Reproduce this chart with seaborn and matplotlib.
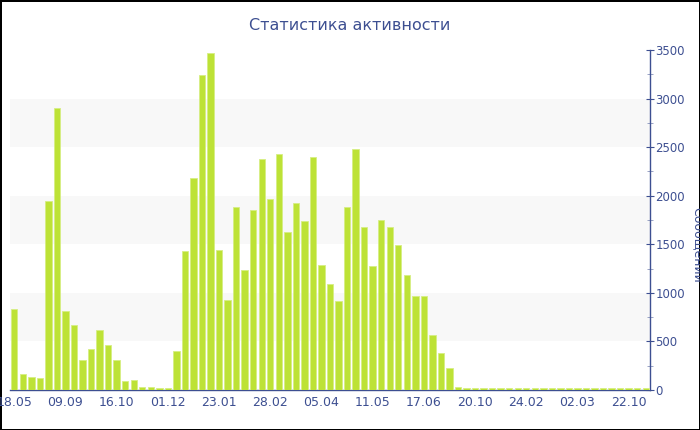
import pandas as pd
import seaborn as sns
import matplotlib.pyplot as plt
from matplotlib.ticker import MultipleLocator

# Messages per period
messages = [830, 165, 134, 122, 1950, 2900, 810, 669, 305, 420,
            618, 465, 310, 90, 103, 28, 28, 18, 16, 398,
            1431, 2180, 3240, 3468, 1440, 926, 1880, 1235, 1850, 2376,
            1966, 2425, 1625, 1923, 1738, 2395, 1285, 1088, 920, 1885,
            2478, 1678, 1278, 1746, 1678, 1490, 1180, 965, 965, 566,
            379, 226, 32, 16, 16, 18, 18, 20, 18, 22,
            18, 18, 20, 16, 16, 22, 18, 16, 16, 18,
            16, 16, 16, 18, 16]
tick_labels = ["18.05", "09.09", "16.10", "01.12", "23.01", "28.02", "05.04",
               "11.05", "17.06", "20.10", "24.02", "02.03", "22.10"]
tick_step = 6

df = pd.DataFrame({"idx": range(len(messages)), "count": messages})

text_color = "#3d4f91"
sns.set_style("white")
plt.rcParams['font.family'] = ['DejaVu Sans']

fig = plt.figure(figsize=(7, 4.3), dpi=100)
fig.patch.set_edgecolor("black")
fig.patch.set_linewidth(2)
ax = fig.add_axes([10 / 700, 40 / 430, 640 / 700, 340 / 430])

# alternating background bands
for lo in (500, 1500, 2500):
    ax.axhspan(lo, lo + 500, color="#f8f8f8", zorder=0, lw=0)

sns.barplot(data=df, x="idx", y="count", color="#bde236", saturation=1,
            width=0.75, edgecolor="#d6ee84", linewidth=0.6, ax=ax, zorder=3)

ax.set_xlim(-0.5, len(messages) - 0.5)
ax.set_ylim(0, 3500)
ax.set_xticks(range(0, len(tick_labels) * tick_step, tick_step))
ax.set_xticklabels(tick_labels)
ax.set_xlabel("")
ax.set_ylabel("")

ax.yaxis.tick_right()
ax.yaxis.set_major_locator(MultipleLocator(500))
ax.yaxis.set_minor_locator(MultipleLocator(250))
ax.tick_params(axis="y", which="major", direction="inout", length=6, width=0.8,
               color=text_color, labelcolor=text_color, labelsize=8.5, pad=1)
ax.tick_params(axis="y", which="minor", direction="inout", length=4, width=0.6,
               color="#8a94bb")
ax.tick_params(axis="x", direction="inout", length=5, width=0.8,
               color="#8a94bb", labelcolor=text_color, labelsize=9, pad=2)

for side in ("left", "top"):
    ax.spines[side].set_visible(False)
for side in ("right", "bottom"):
    ax.spines[side].set_color(text_color)
    ax.spines[side].set_linewidth(1)
    ax.spines[side].set_zorder(2)

fig.text(0.5, 1 - 25 / 430, "Статистика активности", ha="center", va="center",
         fontsize=11.5, color=text_color)
fig.text(697 / 700, 1 - 245 / 430, "Сообщений", ha="center", va="center",
         rotation=270, fontsize=9, color=text_color)

fig.savefig("out.png", dpi=100, edgecolor=fig.get_edgecolor())
